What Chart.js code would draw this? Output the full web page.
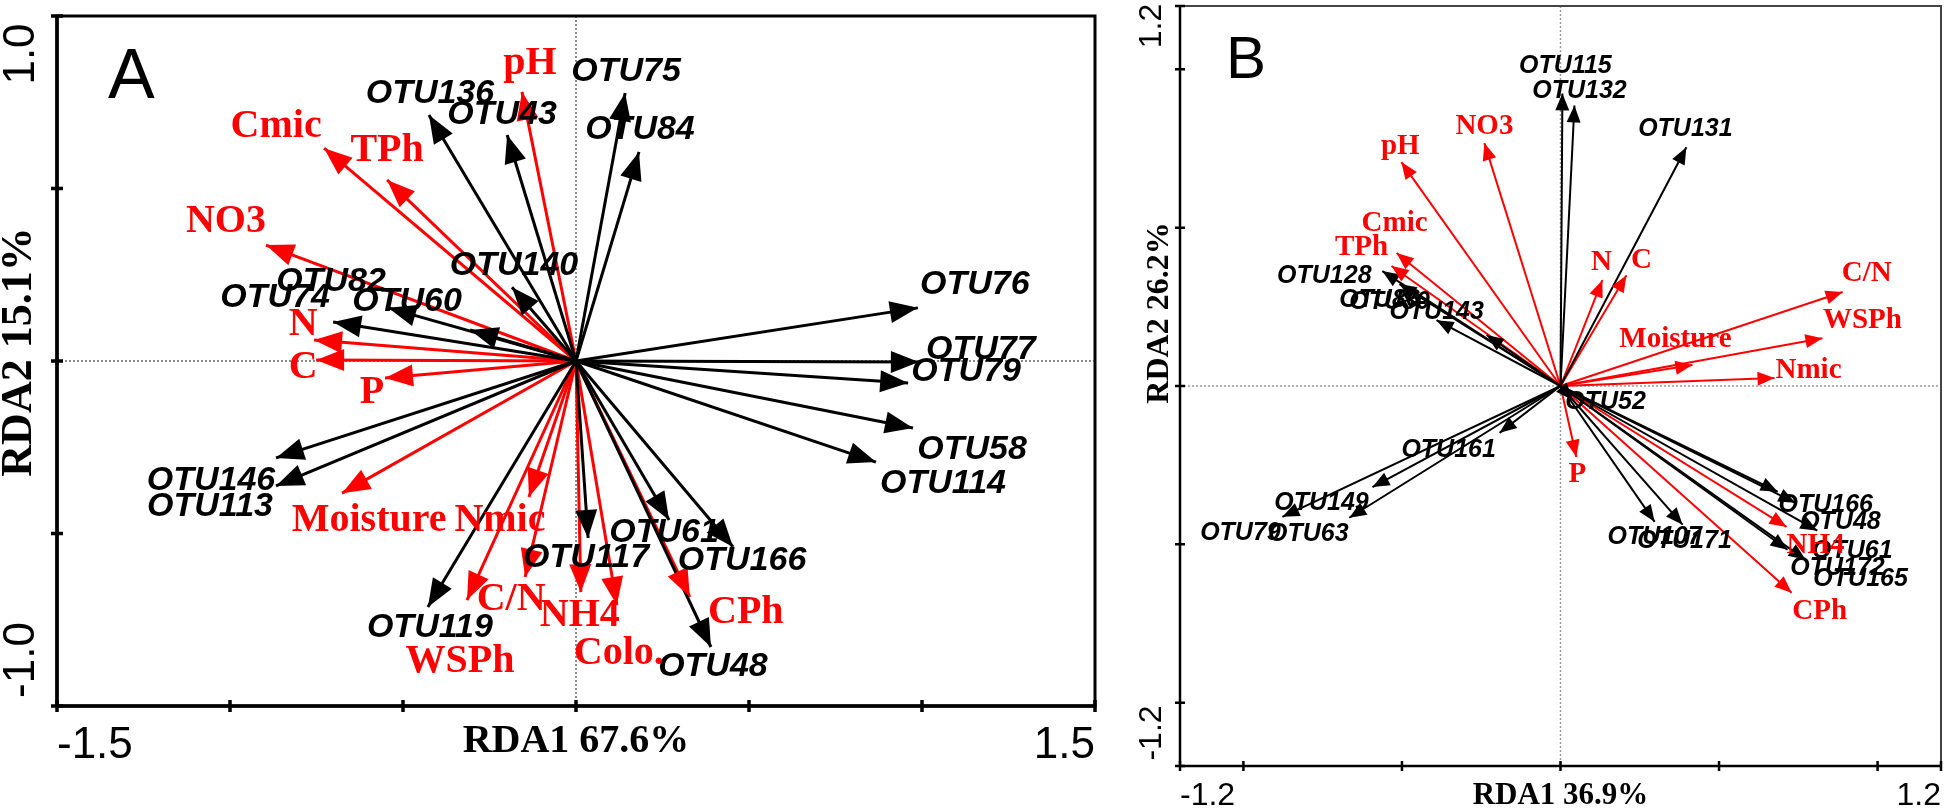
<!DOCTYPE html>
<html>
<head>
<meta charset="utf-8">
<script src="https://cdn.jsdelivr.net/npm/chart.js@4.4.1/dist/chart.umd.min.js"></script>
<style>
  html, body { margin: 0; padding: 0; background: #fff; }
  #wrap { position: relative; width: 1946px; height: 810px; }
  canvas { position: absolute; left: 0; top: 0; }
</style>
</head>
<body>
<div id="wrap">
  <canvas id="chartA" width="1946" height="810"></canvas>
  <canvas id="chartB" width="1946" height="810"></canvas>
</div>
<script>
// ---- panel A data (RDA1 67.6%, RDA2 15.1%) ----
const otuA  = ['OTU75', 'OTU84', 'OTU136', 'OTU43', 'OTU140', 'OTU82', 'OTU74', 'OTU60', 'OTU76', 'OTU77',
               'OTU79', 'OTU58', 'OTU114', 'OTU146', 'OTU113', 'OTU119', 'OTU117', 'OTU61', 'OTU166', 'OTU48'];
const otuAx = [0.142, 0.182, -0.425, -0.199, -0.185, -0.543, -0.702, -0.306, 0.988, 0.991,
               0.960, 0.974, 0.867, -0.867, -0.867, -0.428, 0.035, 0.269, 0.454, 0.390];
const otuAy = [0.777, 0.606, 0.713, 0.655, 0.214, 0.154, 0.113, 0.090, 0.154, -0.003,
               -0.064, -0.194, -0.293, -0.281, -0.362, -0.713, -0.513, -0.461, -0.539, -0.829];

const envA  = ['pH', 'Cmic', 'TPh', 'NO3', 'N', 'C', 'P', 'Moisture', 'Nmic', 'C/N', 'WSPh', 'NH4', 'Colo.', 'CPh'];
const envAx = [-0.156, -0.728, -0.546, -0.896, -0.757, -0.751, -0.552, -0.676, -0.136, -0.147, -0.315, 0.014, 0.118, 0.329];
const envAy = [0.780, 0.617, 0.525, 0.336, 0.061, 0.003, -0.049, -0.383, -0.394, -0.626, -0.693, -0.670, -0.707, -0.684];

const xTicksA = [-1.5, -1, -0.5, 0, 0.5, 1, 1.5];
const yTicksA = [-1, -0.5, 0, 0.5, 1];
const xTickLabelsA = ['-1.5', '', '', '', '', '', '1.5'];
const yTickLabelsA = ['-1.0', '', '', '', '1.0'];

// ---- panel B data (RDA1 36.9%, RDA2 26.2%) ----
const otuB  = ['OTU115', 'OTU132', 'OTU131', 'OTU128', 'OTU86', 'OTU80', 'OTU143', 'OTU52', 'OTU161', 'OTU149',
               'OTU79', 'OTU63', 'OTU107', 'OTU171', 'OTU166', 'OTU48', 'OTU61', 'OTU172', 'OTU165'];
const otuBx = [0.006, 0.044, 0.397, -0.562, -0.508, -0.391, -0.233, 0.038, -0.192, -0.593,
               -0.877, -0.666, 0.297, 0.385, 0.685, 0.741, 0.810, 0.716, 0.773];
const otuBy = [0.924, 0.886, 0.754, 0.363, 0.322, 0.208, 0.161, -0.044, -0.148, -0.319,
               -0.413, -0.416, -0.429, -0.438, -0.334, -0.369, -0.457, -0.517, -0.549];

const envB  = ['pH', 'NO3', 'Cmic', 'TPh', 'N', 'C', 'C/N', 'WSPh', 'Moisture', 'Nmic', 'P', 'NH4', 'CPh'];
const envBx = [-0.502, -0.240, -0.517, -0.533, 0.132, 0.208, 0.890, 0.826, 0.416, 0.675, 0.050, 0.713, 0.729];
const envBy = [0.707, 0.767, 0.420, 0.379, 0.334, 0.350, 0.297, 0.151, 0.066, 0.025, -0.224, -0.445, -0.653];

const xTicksB = [-1.2, -1, -0.5, 0, 0.5, 1, 1.2];
const yTicksB = [-1.2, -1, -0.5, 0, 0.5, 1, 1.2];
const xTickLabelsB = ['-1.2', '', '', '', '', '', '1.2'];
const yTickLabelsB = ['-1.2', '', '', '', '', '', '1.2'];

// label placement, pixel offset of the label centre from the arrow tip
const otuAOff = [[1,-21],[1,-22],[1,-21],[-5,-20],[2,-22],[-57,-26],[-58,-24],[-63,-28],[57,-23],[62,-12],
                 [58,-11],[59,22],[67,22],[-65,23],[-66,21],[2,21],[-2,20],[-5,13],[9,14],[2,20]];
const envAOff = [[8,-28],[-48,-21],[0,-29],[-40,-23],[-11,-15],[-13,8],[-13,15],[27,28],[-29,24],[-14,23],
                 [-7,62],[-1,24],[2,49],[56,16]];
const otuBOff = [[3,-27],[5,-14],[-1,-18],[-58,5],[-20,16],[-47,-18],[-50,-23],[33,2],[-51,17],[-51,16],
                 [-42,16],[-41,16],[0,15],[2,16],[48,13],[45,19],[35,20],[50,18],[55,19]];
const envBOff = [[-1,-16],[0,-17],[-2,-29],[-30,-18],[-1,-18],[15,-15],[24,-18],[40,-18],[-17,-26],[34,-8],
                 [1,18],[29,19],[28,19]];

const RED = '#ff0000';
const SANS = "'Liberation Sans', Arial, sans-serif";
const SERIF = "'Liberation Serif', 'Times New Roman', serif";

function arrows(names, xs, ys, offs, color, width, font, head) {
  return names.map((n, i) => ({
    label: n,
    data: [{x: 0, y: 0}, {x: xs[i], y: ys[i]}],
    showLine: true,
    borderColor: color,
    borderWidth: width,
    pointRadius: 0,
    labelOffset: offs[i],
    labelFont: font,
    head: head
  }));
}

const biplot = {
  id: 'biplot',
  beforeDatasetsDraw(chart, args, o) {
    const {ctx, chartArea: a, scales: {x, y}} = chart;
    ctx.save();
    ctx.strokeStyle = o.dotColor;
    ctx.lineWidth = o.dotWidth;
    ctx.setLineDash([2, 2]);
    const x0 = x.getPixelForValue(0), y0 = y.getPixelForValue(0);
    ctx.beginPath();
    ctx.moveTo(x0, a.top); ctx.lineTo(x0, a.bottom);
    ctx.moveTo(a.left, y0); ctx.lineTo(a.right, y0);
    ctx.stroke();
    ctx.restore();
  },
  afterDatasetsDraw(chart) {
    const ctx = chart.ctx;
    ctx.save();
    chart.data.datasets.forEach((ds, i) => {
      const pts = chart.getDatasetMeta(i).data;
      const p0 = pts[0], p1 = pts[1];
      const ang = Math.atan2(p1.y - p0.y, p1.x - p0.x);
      const [len, hw] = ds.head;
      ctx.fillStyle = ds.borderColor;
      ctx.beginPath();
      ctx.moveTo(p1.x, p1.y);
      ctx.lineTo(p1.x - len * Math.cos(ang) + hw * Math.sin(ang), p1.y - len * Math.sin(ang) - hw * Math.cos(ang));
      ctx.lineTo(p1.x - len * Math.cos(ang) - hw * Math.sin(ang), p1.y - len * Math.sin(ang) + hw * Math.cos(ang));
      ctx.closePath();
      ctx.fill();
    });
    ctx.textAlign = 'center';
    ctx.textBaseline = 'middle';
    chart.data.datasets.forEach((ds, i) => {
      const p1 = chart.getDatasetMeta(i).data[1];
      ctx.fillStyle = ds.borderColor;
      ctx.font = ds.labelFont;
      ctx.fillText(ds.label, p1.x + ds.labelOffset[0], p1.y + ds.labelOffset[1]);
    });
    ctx.restore();
  },
  afterDraw(chart, args, o) {
    const {ctx, chartArea: a, scales: {x, y}} = chart;
    ctx.save();
    // frame
    ctx.strokeStyle = o.frameColor;
    ctx.lineWidth = o.frameWidth;
    ctx.strokeRect(a.left, a.top, a.right - a.left, a.bottom - a.top);
    ctx.strokeStyle = '#000';
    ctx.lineWidth = o.axisWidth;
    ctx.beginPath();
    ctx.moveTo(a.left, a.top); ctx.lineTo(a.left, a.bottom); ctx.lineTo(a.right, a.bottom);
    ctx.stroke();
    // ticks
    ctx.beginPath();
    o.xTicks.forEach(v => {
      const px = x.getPixelForValue(v);
      ctx.moveTo(px, a.bottom - o.tick); ctx.lineTo(px, a.bottom + o.tick);
    });
    o.yTicks.forEach(v => {
      const py = y.getPixelForValue(v);
      ctx.moveTo(a.left - o.tick, py); ctx.lineTo(a.left + o.tick, py);
    });
    ctx.stroke();
    // tick labels
    ctx.fillStyle = '#000';
    ctx.font = o.tickFont;
    ctx.textBaseline = 'alphabetic';
    o.xTicks.forEach((v, i) => {
      const t = o.xTickLabels[i];
      if (!t) return;
      ctx.textAlign = i === 0 ? 'left' : 'right';
      ctx.fillText(t, x.getPixelForValue(v), a.bottom + o.xTickGap);
    });
    o.yTicks.forEach((v, i) => {
      const t = o.yTickLabels[i];
      if (!t) return;
      ctx.save();
      ctx.translate(o.yTickX, y.getPixelForValue(v) + (i === 0 ? -o.yTickInBottom : o.yTickInTop));
      ctx.rotate(-Math.PI / 2);
      ctx.textAlign = 'center';
      ctx.textBaseline = 'middle';
      ctx.fillText(t, 0, 0);
      ctx.restore();
    });
    // axis titles
    ctx.font = o.titleFont;
    ctx.textAlign = 'center';
    ctx.fillText(o.xTitle, (a.left + a.right) / 2, a.bottom + o.xTitleGap);
    ctx.save();
    ctx.font = o.yTitleFont;
    ctx.translate(o.yTitleX, o.yTitleY);
    ctx.rotate(-Math.PI / 2);
    ctx.textBaseline = 'middle';
    ctx.fillText(o.yTitle, 0, 0);
    ctx.restore();
    // panel letter
    ctx.font = o.letterFont;
    ctx.textAlign = 'left';
    ctx.fillText(o.letter, o.letterX, o.letterY);
    ctx.restore();
  }
};

function makeChart(id, datasets, xr, yr, padding, pluginOpts) {
  return new Chart(document.getElementById(id), {
    type: 'scatter',
    data: { datasets: datasets },
    options: {
      responsive: false,
      animation: false,
      devicePixelRatio: 1,
      layout: { padding: padding, autoPadding: false },
      scales: {
        x: { type: 'linear', min: xr[0], max: xr[1], display: false },
        y: { type: 'linear', min: yr[0], max: yr[1], display: false }
      },
      plugins: { legend: { display: false }, tooltip: { enabled: false }, biplot: pluginOpts }
    },
    plugins: [biplot]
  });
}

const dsA = arrows(otuA, otuAx, otuAy, otuAOff, '#000', 3, "italic bold 34px " + SANS, [28, 11])
  .concat(arrows(envA, envAx, envAy, envAOff, RED, 3, "bold 40px " + SERIF, [28, 11]));
makeChart('chartA', dsA, [-1.5, 1.5], [-1, 1], { left: 57, right: 851, top: 16, bottom: 104 }, {
  xTicks: xTicksA, yTicks: yTicksA, xTickLabels: xTickLabelsA, yTickLabels: yTickLabelsA,
  dotColor: '#8a8a8a', dotWidth: 2, frameColor: '#000', frameWidth: 3, axisWidth: 3.5, tick: 6,
  tickFont: "44px " + SANS, xTickGap: 52, yTickX: 22, yTickInTop: 38, yTickInBottom: 46,
  titleFont: "bold 40px " + SERIF, yTitleFont: "bold 44px " + SERIF,
  xTitle: 'RDA1 67.6%', xTitleGap: 46, yTitle: 'RDA2 15.1%', yTitleX: 20, yTitleY: 352,
  letter: 'A', letterFont: "70px " + SANS, letterX: 108, letterY: 98
});

const dsB = arrows(otuB, otuBx, otuBy, otuBOff, '#000', 2, "italic bold 25px " + SANS, [17, 7])
  .concat(arrows(envB, envBx, envBy, envBOff, RED, 2, "bold 29px " + SERIF, [17, 7]));
makeChart('chartB', dsB, [-1.2, 1.2], [-1.2, 1.2], { left: 1180, right: 5, top: 6, bottom: 44 }, {
  xTicks: xTicksB, yTicks: yTicksB, xTickLabels: xTickLabelsB, yTickLabels: yTickLabelsB,
  dotColor: '#9a9a9a', dotWidth: 1.5, frameColor: '#444', frameWidth: 2, axisWidth: 2.5, tick: 5,
  tickFont: "32px " + SANS, xTickGap: 39, yTickX: 1152, yTickInTop: 20, yTickInBottom: 33,
  titleFont: "bold 31px " + SERIF, yTitleFont: "bold 32px " + SERIF,
  xTitle: 'RDA1 36.9%', xTitleGap: 38, yTitle: 'RDA2 26.2%', yTitleX: 1160, yTitleY: 313,
  letter: 'B', letterFont: "60px " + SANS, letterX: 1226, letterY: 78
});
</script>
</body>
</html>
